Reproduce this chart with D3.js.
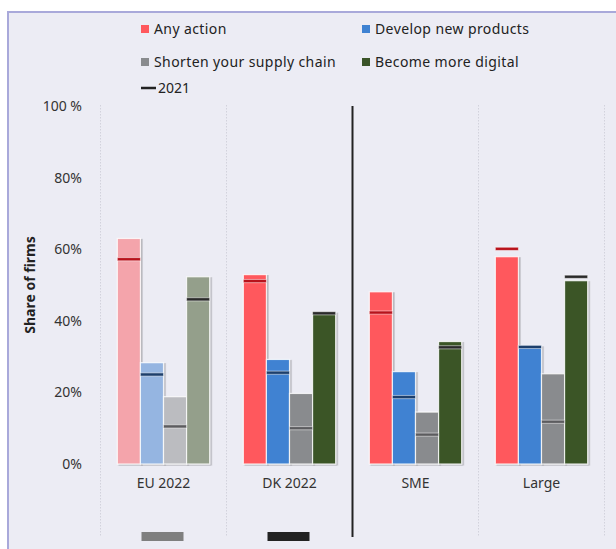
<!DOCTYPE html>
<html>
<head>
<meta charset="utf-8">
<script src="https://cdn.jsdelivr.net/npm/d3@7"></script>
<style>
  html, body { margin: 0; padding: 0; background: #ffffff; }
  svg { display: block; font-family: "Noto Sans", "Open Sans", sans-serif; }
</style>
</head>
<body>
<svg id="chart" width="616" height="549"></svg>
<script>
// ---------------- DATA ----------------
const categories = ["EU 2022", "DK 2022", "SME", "Large"];
const seriesNames = ["Any action", "Develop new products", "Shorten your supply chain", "Become more digital"];

// 2022 values (share of firms, %)
const anyAction      = [63.0, 52.9, 48.1, 57.9];
const developProducts = [28.3, 29.2, 25.8, 33.0];
const shortenSupply  = [18.8, 19.7, 14.5, 25.2];
const moreDigital    = [52.3, 42.4, 34.2, 51.2];

// 2021 values (markers)
const anyAction2021       = [57.2, 51.1, 42.3, 60.1];
const developProducts2021 = [25.0, 25.5, 18.7, 32.7];
const shortenSupply2021   = [10.5, 10.0, 8.2, 11.8];
const moreDigital2021     = [46.0, 42.1, 32.6, 52.3];

const yTicks = [0, 20, 40, 60, 80, 100];
const yTitle = "Share of firms";
const markerLabel = "2021";

// ---------------- STYLE ----------------
const strongColors = ["#FF585D", "#3F82D2", "#898B8E", "#3A5428"];
const paleColors   = ["#F4A4AB", "#95B5E1", "#BBBCC0", "#949F8B"];
const markColors   = ["#B8121B", "#1D3F6C", "#5C5C5F", "#2A2A2A"];
const paleCategory = "EU 2022";

const svg = d3.select("#chart");
const W = 616, H = 549;

// frame
svg.append("rect").attr("x", 8).attr("y", 12).attr("width", W).attr("height", H)
  .attr("fill", "#ECECF4").attr("stroke", "#A9A9DA").attr("stroke-width", 2);

const defs = svg.append("defs");
const f = defs.append("filter").attr("id", "shadow").attr("x", "-20%").attr("y", "-5%").attr("width", "150%").attr("height", "115%");
f.append("feDropShadow").attr("dx", 1.5).attr("dy", 1).attr("stdDeviation", 0.6)
  .attr("flood-color", "#000").attr("flood-opacity", 0.3);

// scales
const x = d3.scaleBand().domain(categories).range([100.5, 604.5]).paddingInner(0).paddingOuter(0);
const xi = d3.scaleBand().domain(seriesNames).range([0, x.bandwidth()]).paddingInner(0).paddingOuter(0.73);
const y = d3.scaleLinear().domain([0, 100]).range([464, 106]);

// dotted vertical gridlines at band boundaries
const boundaries = categories.map(c => x(c)).concat([x(categories[categories.length - 1]) + x.bandwidth()]);
const dividerIndex = 2;
svg.append("g").selectAll("line").data(boundaries.filter((d, i) => i !== dividerIndex)).join("line")
  .attr("x1", d => d).attr("x2", d => d)
  .attr("y1", y(100) - 1).attr("y2", 537)
  .attr("stroke", "#D2D2DC").attr("stroke-width", 1).attr("stroke-dasharray", "1.5,1.5");

// y axis (labels only)
const yAxis = d3.axisLeft(y).tickValues(yTicks).tickFormat(d => d === 100 ? "100 %" : d + "%").tickSize(0).tickPadding(0);
const yg = svg.append("g").attr("transform", "translate(82,0)").call(yAxis);
yg.select(".domain").remove();
yg.selectAll("text").attr("font-size", 14).attr("fill", "#333").attr("font-family", "Noto Sans, sans-serif");

// y title
svg.append("text").attr("transform", `translate(35,${(y(0) + y(100)) / 2}) rotate(-90)`)
  .attr("text-anchor", "middle").attr("font-size", 14).attr("font-weight", "bold").attr("fill", "#222")
  .text(yTitle);

// x axis labels
const xAxis = d3.axisBottom(x).tickSize(0).tickPadding(0);
const xg = svg.append("g").attr("transform", `translate(0,${y(0) + 14})`).call(xAxis);
xg.select(".domain").remove();
xg.selectAll("text").attr("font-size", 14).attr("fill", "#333").attr("font-family", "Noto Sans, sans-serif");

// divider line
const divX = boundaries[dividerIndex];
svg.append("line").attr("x1", divX).attr("x2", divX).attr("y1", y(100)).attr("y2", 537)
  .attr("stroke", "#222").attr("stroke-width", 2);

// bars
const values2022 = [anyAction, developProducts, shortenSupply, moreDigital];
const values2021 = [anyAction2021, developProducts2021, shortenSupply2021, moreDigital2021];

const barData = [];
categories.forEach((c, ci) => {
  seriesNames.forEach((s, si) => {
    barData.push({ cat: c, series: s, si, v: values2022[si][ci], m: values2021[si][ci] });
  });
});

const gBars = svg.append("g");
gBars.selectAll("rect.bar").data(barData).join("rect").attr("class", "bar")
  .attr("x", d => x(d.cat) + xi(d.series))
  .attr("width", xi.bandwidth())
  .attr("y", d => y(d.v))
  .attr("height", d => y(0) - y(d.v))
  .attr("fill", d => d.cat === paleCategory ? paleColors[d.si] : strongColors[d.si])
  .attr("stroke", "#ffffff").attr("stroke-opacity", 0.8).attr("stroke-width", 1.2)
  .attr("filter", "url(#shadow)");

gBars.selectAll("rect.mark").data(barData).join("rect").attr("class", "mark")
  .attr("x", d => x(d.cat) + xi(d.series))
  .attr("width", xi.bandwidth())
  .attr("y", d => y(d.m) - 1.6)
  .attr("height", 3.2)
  .attr("fill", d => markColors[d.si])
  .attr("stroke", "#ffffff").attr("stroke-opacity", 0.5).attr("stroke-width", 1);

// legend
const legendPos = [
  { x: 141, y: 29 }, { x: 362, y: 29 },
  { x: 141, y: 62 }, { x: 362, y: 62 }
];
const lg = svg.append("g");
seriesNames.forEach((s, i) => {
  const p = legendPos[i];
  lg.append("rect").attr("x", p.x).attr("y", p.y - 4).attr("width", 8).attr("height", 8).attr("fill", strongColors[i]);
  lg.append("text").attr("x", p.x + 13).attr("y", p.y).attr("dy", "0.35em")
    .attr("font-size", 14).attr("fill", "#222").attr("letter-spacing", 0.4).text(s);
});
lg.append("line").attr("x1", 141).attr("x2", 156).attr("y1", 88).attr("y2", 88)
  .attr("stroke", "#222").attr("stroke-width", 2.5);
lg.append("text").attr("x", 158).attr("y", 88).attr("dy", "0.35em")
  .attr("font-size", 14).attr("fill", "#222").text(markerLabel);

// bottom swatches under first two categories
const swatchColors = ["#7F7F7F", "#222222"];
svg.append("g").selectAll("rect").data(categories.slice(0, 2)).join("rect")
  .attr("x", d => x(d) + x.bandwidth() / 2 - 21 - 1)
  .attr("y", 532).attr("width", 42).attr("height", 9)
  .attr("fill", (d, i) => swatchColors[i]);
</script>
</body>
</html>
